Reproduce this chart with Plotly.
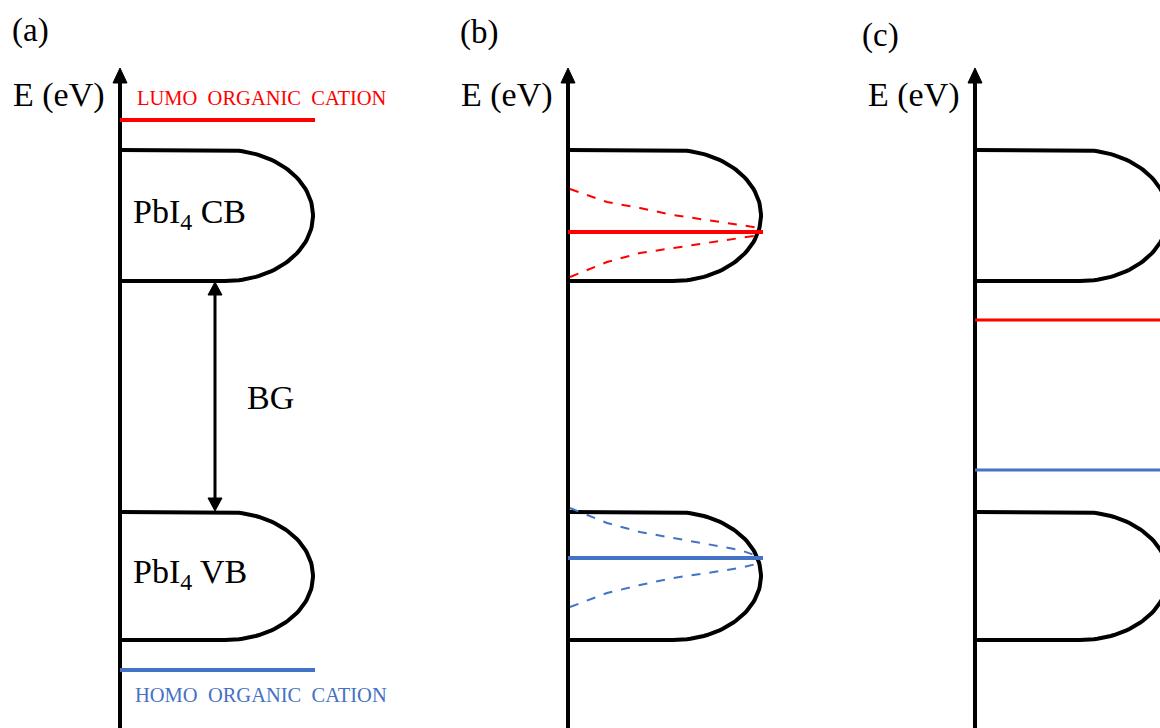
import numpy as np
import plotly.graph_objects as go

# ---------------- data (energy in arbitrary units, larger = higher) -------------
panel_labels = ["(a)", "(b)", "(c)"]
axis_x = [120, 568, 975]                 # position of each energy axis
cb_top = [578, 578, 578]
cb_bottom = [447, 447, 447]
vb_top = [216, 216, 216]
vb_bottom = [88, 88, 88]
lumo_level = [608, 496, 408]
homo_level = [58, 170, 258]
band_reach = 193                          # horizontal extent of each band lobe

# panel (b): dashed broadening curves
dos_x = [570, 607, 640, 673, 707, 740, 760]
lumo_dash_upper = [539, 526, 520, 513, 508, 503, 500]
lumo_dash_lower = [451, 466, 475, 480, 485, 490, 493]
homo_dash_upper = [220, 205, 196, 190, 184, 178, 171]
homo_dash_lower = [121, 135, 143, 150, 155, 160, 165]

# gap arrow (panel a)
bg_x = 215
bg_label = "BG"

RED = "#FF0000"
BLUE = "#4472C4"
BLACK = "#000000"
FONT = "Liberation Serif"
H = 728
W = 1160

fig = go.Figure()


def add_line(xs, ys, color, width, dash="solid"):
    fig.add_trace(go.Scatter(x=xs, y=ys, mode="lines",
                             line=dict(color=color, width=width, dash=dash),
                             hoverinfo="skip", showlegend=False))


def add_tri(xs, ys, color=BLACK):
    fig.add_trace(go.Scatter(x=xs, y=ys, mode="lines", fill="toself",
                             fillcolor=color, line=dict(color=color, width=1),
                             hoverinfo="skip", showlegend=False))


def band(x0, top, bottom):
    flat = 105
    rx = band_reach - flat
    ry = (top - bottom) / 2
    cy = (top + bottom) / 2
    t = np.linspace(np.pi / 2, -np.pi / 2, 80)
    xs = [x0, x0 + flat] + list(x0 + flat + rx * np.cos(t)) + [x0 + flat, x0]
    ys = [top, top] + list(cy + ry * np.sin(t)) + [bottom, bottom]
    add_line(xs, ys, BLACK, 4)


for i, ax in enumerate(axis_x):
    # energy axis with arrow head
    add_line([ax, ax], [-5, H - 82], BLACK, 4)
    add_tri([ax - 7, ax + 7, ax, ax - 7], [H - 83, H - 83, H - 68, H - 83])
    band(ax, cb_top[i], cb_bottom[i])
    band(ax, vb_top[i], vb_bottom[i])

# panel (a) levels
add_line([axis_x[0], axis_x[0] + 195], [lumo_level[0], lumo_level[0]], RED, 4)
add_line([axis_x[0], axis_x[0] + 195], [homo_level[0], homo_level[0]], BLUE, 4)

# panel (b) levels inside bands
add_line([axis_x[1], axis_x[1] + 195], [lumo_level[1], lumo_level[1]], RED, 4)
add_line([axis_x[1], axis_x[1] + 195], [homo_level[1], homo_level[1]], BLUE, 4)
add_line(dos_x, lumo_dash_upper, RED, 2, "dash")
add_line(dos_x, lumo_dash_lower, RED, 2, "dash")
add_line(dos_x, homo_dash_upper, BLUE, 2, "dash")
add_line(dos_x, homo_dash_lower, BLUE, 2, "dash")

# panel (c) levels inside gap
add_line([axis_x[2], W + 50], [lumo_level[2], lumo_level[2]], RED, 3)
add_line([axis_x[2], W + 50], [homo_level[2], homo_level[2]], BLUE, 3)

# band-gap double arrow
add_line([bg_x, bg_x], [vb_top[0] + 14, cb_bottom[0] - 14], BLACK, 3)
add_tri([bg_x - 7, bg_x + 7, bg_x, bg_x - 7],
        [cb_bottom[0] - 14, cb_bottom[0] - 14, cb_bottom[0] - 1, cb_bottom[0] - 14])
add_tri([bg_x - 7, bg_x + 7, bg_x, bg_x - 7],
        [vb_top[0] + 14, vb_top[0] + 14, vb_top[0] + 1, vb_top[0] + 14])

# ---------------- text ----------------
ann = []


def txt(x, y, s, size, color=BLACK, anchor="left"):
    ann.append(dict(x=x, y=y, xref="x", yref="y", text=s, showarrow=False,
                    xanchor=anchor, yanchor="middle",
                    font=dict(family=FONT, size=size, color=color)))


label_x = [10, 458, 860]
label_y = [H - 30, H - 32, H - 35]
for i in range(3):
    txt(label_x[i], label_y[i], panel_labels[i], 33)
    txt(axis_x[i] - 13, H - 95, "E (eV)", 34, anchor="right")

txt(135, H - 98, "LUMO  ORGANIC  CATION", 20.5, RED)
txt(133, H - 695, "HOMO  ORGANIC  CATION", 20.5, BLUE)
txt(131, (cb_top[0] + cb_bottom[0]) / 2 + 2, "PbI<sub>4</sub> CB", 34)
txt(131, (vb_top[0] + vb_bottom[0]) / 2 + 2, "PbI<sub>4</sub> VB", 34)
txt(245, H - 397, bg_label, 34)

fig.update_layout(
    width=W, height=H,
    margin=dict(l=0, r=0, t=0, b=0),
    paper_bgcolor="white", plot_bgcolor="white",
    xaxis=dict(range=[0, W], visible=False, fixedrange=True),
    yaxis=dict(range=[0, H], visible=False, fixedrange=True),
    annotations=ann,
    showlegend=False,
)

fig.write_html("out.html")
